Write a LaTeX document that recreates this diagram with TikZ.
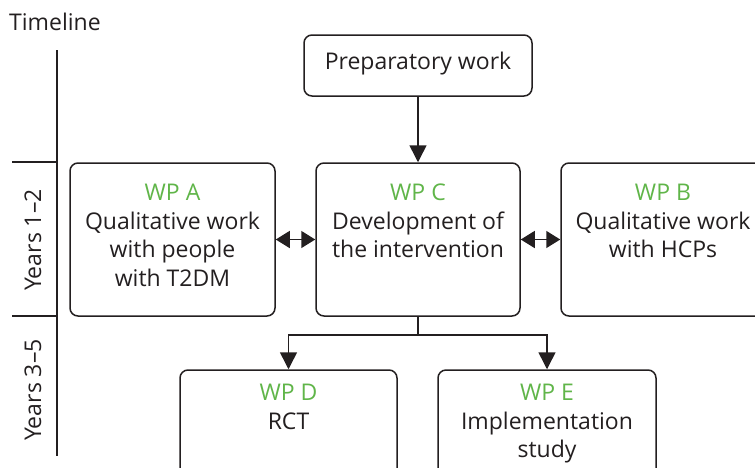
\documentclass[tikz,border=0pt]{standalone}
\usepackage{fontspec}
\setmainfont{Open Sans}
\usetikzlibrary{arrows.meta}
\definecolor{wpgreen}{RGB}{96,181,73}
\definecolor{ink}{RGB}{35,31,32}
\tikzset{
  box/.style={draw=ink, line width=1.5pt, rounded corners=8pt, minimum width=#1, inner sep=0pt},
  txt/.style={text=ink, font=\fontsize{23}{28.5}\selectfont, align=center, inner sep=0pt, anchor=north},
  conn/.style={draw=ink, line width=1.5pt},
  tip/.style={-{Triangle[length=17pt,width=17pt]}},
  dtip/.style={{Triangle[length=14pt,width=17pt]}-{Triangle[length=14pt,width=17pt]}},
}
\begin{document}
\begin{tikzpicture}[x=1pt,y=-1pt]
\useasboundingbox (0,0) rectangle (755,467);
% timeline
\node[anchor=west, text=ink, font=\fontsize{23}{28}\selectfont, inner sep=0pt] (tl) at (9,22) {Timeline};
\coordinate (ttop) at (57,50);
\coordinate (tbot) at (57,456);
\coordinate (t1a) at (12,162);
\coordinate (t1b) at (57,162);
\coordinate (t2a) at (12,316);
\coordinate (t2b) at (57,316);
\draw[conn] (ttop) -- (tbot);
\draw[conn] (t1a) -- (t1b);
\draw[conn] (t2a) -- (t2b);
\node[rotate=90, text=ink, font=\fontsize{23}{28}\selectfont, inner sep=0pt] (y12) at (33,240) {Years 1--2};
\node[rotate=90, text=ink, font=\fontsize{23}{28}\selectfont, inner sep=0pt] (y35) at (33,390) {Years 3--5};
% boxes
\node[box=228pt, minimum height=61pt] (prep) at (418,65.5) {};
\node[box=205pt, minimum height=153pt] (A) at (172.5,239.5) {};
\node[box=204pt, minimum height=153pt] (C) at (418,239.5) {};
\node[box=204pt, minimum height=153pt] (B) at (663,239.5) {};
\node[box=217pt, minimum height=120pt] (D) at (288.5,430) {};
\node[box=218pt, minimum height=120pt] (E) at (547,430) {};
% texts
\node[txt, anchor=center] (tprep) at (418,64) {Preparatory work};
\node[txt] (tA) at (172.5,184) {\textcolor{wpgreen}{WP A}\\Qualitative work\\with people\\with T2DM};
\node[txt] (tC) at (418,184) {\textcolor{wpgreen}{WP C}\\Development of\\the intervention};
\node[txt] (tB) at (663,184) {\textcolor{wpgreen}{WP B}\\Qualitative work\\with HCPs};
\node[txt] (tD) at (288.5,384) {\textcolor{wpgreen}{WP D}\\RCT};
\node[txt] (tE) at (547,384) {\textcolor{wpgreen}{WP E}\\Implementation\\study};
% connectors
\draw[conn, tip] (prep.south) -- (C.north);
\draw[conn, dtip] (A.east) -- (C.west);
\draw[conn, dtip] (C.east) -- (B.west);
\coordinate (split) at (418,335);
\draw[conn] (C.south) -- (split);
\draw[conn, tip] (split) -| (D.north);
\draw[conn, tip] (split) -| (E.north);
\end{tikzpicture}
\end{document}
